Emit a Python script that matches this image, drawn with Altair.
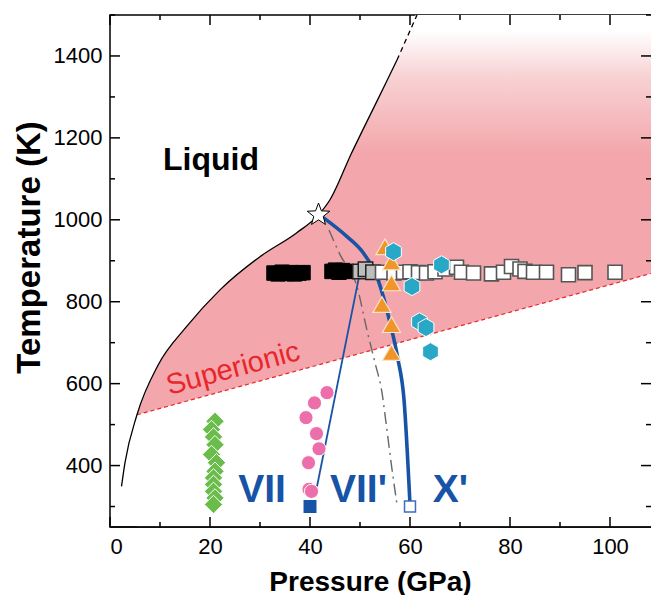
import altair as alt
import pandas as pd

FONT = "Liberation Sans"
W, H = 541, 512

# ---------------- data ----------------
melt_P = [2.3, 3.0, 5.4, 9.6, 15.3, 22.0, 30.0, 37.3, 41.7, 44.0, 48.2, 53.0, 57.4]
melt_T = [349, 407, 524, 645, 739, 829, 910, 968, 1012, 1049, 1160, 1280, 1390]
melt_ext_P = [57.4, 61.4]
melt_ext_T = [1390, 1500]

# superionic region (upper boundary: melting curve then plot top)
sup_P = [5.4, 9.6, 15.3, 22.0, 30.0, 37.3, 41.7, 44.0, 48.2, 53.0, 57.4, 61.4, 108.2]
sup_T = [524, 645, 739, 829, 910, 968, 1012, 1049, 1160, 1280, 1390, 1500, 1500]

# red dashed lower limit of the superionic phase
red_P = [5.4, 108.2]
red_T = [524, 869]

# VII' - X' boundary (thick blue)
bx_P = [42.6, 47.4, 50.6, 53.6, 56.0, 57.6, 58.8, 60.0]
bx_T = [1006, 959, 920, 854, 749, 659, 561, 305]

# VII - VII' boundary (thin blue)
bt_P = [41.4, 50.2]
bt_T = [349, 885]

# gray dash-dot line
gd_P = [43.8, 46.0, 49.4, 51.4, 53.0, 54.4, 55.2, 56.3, 57.4]
gd_T = [975, 915, 837, 730, 651, 578, 505, 400, 305]

black_P = [32.8, 33.6, 34.4, 35.3, 36.1, 36.9, 37.8, 38.6,
           44.4, 45.1, 45.8, 46.5, 47.2]
black_T = [870, 868, 872, 869, 871, 868, 870, 871,
           874, 877, 872, 876, 874]

gray_P = [50.0, 51.1, 52.6]
gray_T = [874, 879, 872]

open_P = [54.5, 56.8, 58.7, 60.0, 61.7, 63.3, 65.0, 67.0, 69.3, 70.3, 72.7, 76.3,
          78.7, 80.3, 82.0, 83.0, 84.7, 87.3, 91.7, 95.0, 101.0]
open_T = [872, 870, 872, 873, 871, 870, 873, 880, 884, 872, 870, 868,
          872, 886, 880, 874, 872, 872, 866, 871, 872]

green_P = [21.0, 20.3, 20.7, 21.0, 20.3, 21.3, 21.0, 20.7, 20.7, 20.7, 21.0, 20.7]
green_T = [508, 488, 470, 451, 427, 407, 386, 370, 354, 337, 321, 305]

pink_P = [43.4, 40.9, 39.2, 41.3, 41.8, 39.7, 39.8, 40.3]
pink_T = [578, 553, 517, 478, 441, 407, 342, 337]

tri_P = [55.0, 56.3, 56.3, 54.4, 56.3, 56.3]
tri_T = [934, 897, 846, 793, 744, 676]

hex_P = [56.7, 60.4, 61.9, 63.2, 64.1, 66.3]
hex_T = [922, 837, 751, 737, 678, 890]

star_P = [41.7]
star_T = [1012]

bsq_fill_P, bsq_fill_T = [40.0], [300]
bsq_open_P, bsq_open_T = [60.0], [300]

x_major = [0, 20, 40, 60, 80, 100]
x_minor = [10, 30, 50, 70, 90]
y_major = [400, 600, 800, 1000, 1200, 1400]
y_minor = [300, 500, 700, 900, 1100, 1300, 1500]

# ---------------- helpers ----------------
X_MAX = 108.2
xs = alt.Scale(domain=[0, X_MAX], nice=False, zero=False)
ys = alt.Scale(domain=[250, 1500], nice=False, zero=False)
FILL_BASE = 252  # fills stop just above the bottom frame line


def df(P, T):
    return pd.DataFrame({"P": P, "T": T})


def X(axis=None):
    return alt.X("P:Q", scale=xs, axis=axis)


def Y(axis=None):
    return alt.Y("T:Q", scale=ys, axis=axis)


PINK = "#f3a7ac"
BLUE = "#1753a6"

main_x_axis = alt.Axis(orient="bottom", values=x_major, ticks=False, grid=False, domain=False,
                       labelFontSize=22, labelFont=FONT, labelColor="black", labelPadding=9,
                       title="Pressure (GPa)", titleFont=FONT, titleFontSize=28,
                       titleFontWeight="bold", titlePadding=11, titleColor="black",
                       titleX=260, titleAlign="center")
main_y_axis = alt.Axis(orient="left", values=y_major, ticks=False, grid=False, domain=False,
                       format="d",
                       labelFontSize=22, labelFont=FONT, labelColor="black", labelPadding=8,
                       title="Temperature (K)", titleFont=FONT, titleFontSize=33,
                       titleFontWeight="bold", titleColor="black",
                       titleX=-64, titleY=232, titleAngle=270, titleAlign="center",
                       titleBaseline="bottom")

grad = alt.Gradient(gradient="linear", x1=0, x2=0, y1=0, y2=1,
                    stops=[alt.GradientStop(color="#ffffff", offset=0),
                           alt.GradientStop(color="#ffffff", offset=0.03),
                           alt.GradientStop(color="#f8d2d4", offset=0.12),
                           alt.GradientStop(color=PINK, offset=0.27),
                           alt.GradientStop(color=PINK, offset=1)])

sup_df = df(sup_P, sup_T)
sup_df["T0"] = FILL_BASE
red_df = df(red_P, red_T)
red_df["T0"] = FILL_BASE

area_pink = alt.Chart(sup_df).mark_area(fill=grad, interpolate="monotone", clip=True).encode(
    x=X(main_x_axis), y=Y(main_y_axis), y2="T0:Q")

area_white = alt.Chart(red_df).mark_area(fill="white", clip=True).encode(
    x=X(), y=Y(), y2="T0:Q")

red_line = alt.Chart(df(red_P, red_T)).mark_line(
    color="#e8262b", strokeWidth=1.2, strokeDash=[4, 3]).encode(x=X(), y=Y())

melt = alt.Chart(df(melt_P, melt_T)).mark_line(
    color="black", strokeWidth=1.3, interpolate="monotone").encode(x=X(), y=Y())
melt_ext = alt.Chart(df(melt_ext_P, melt_ext_T)).mark_line(
    color="black", strokeWidth=1.3, strokeDash=[5, 4]).encode(x=X(), y=Y())

gray_dd = alt.Chart(df(gd_P, gd_T)).mark_line(
    color="#666666", strokeWidth=1.4, strokeDash=[12, 5, 2, 5], interpolate="monotone").encode(x=X(), y=Y())

blue_thin = alt.Chart(df(bt_P, bt_T)).mark_line(color=BLUE, strokeWidth=1.8).encode(x=X(), y=Y())
blue_thick = alt.Chart(df(bx_P, bx_T)).mark_line(
    color=BLUE, strokeWidth=3.6, interpolate="monotone").encode(x=X(), y=Y())

sq_black = alt.Chart(df(black_P, black_T)).mark_point(
    shape="square", filled=True, fill="black", stroke="black", strokeWidth=1, size=210, opacity=1
).encode(x=X(), y=Y())
sq_gray = alt.Chart(df(gray_P, gray_T)).mark_point(
    shape="square", filled=True, fill="#bdbdbd", stroke="#222222", strokeWidth=1.5, size=210, opacity=1
).encode(x=X(), y=Y())
sq_open = alt.Chart(df(open_P, open_T)).mark_point(
    shape="square", filled=True, fill="white", stroke="#555555", strokeWidth=1.6, size=196, opacity=1
).encode(x=X(), y=Y())

green = alt.Chart(df(green_P, green_T)).mark_point(
    shape="diamond", filled=True, fill="#6abd4b", stroke="white", strokeWidth=1, size=340, opacity=1
).encode(x=X(), y=Y())
pink = alt.Chart(df(pink_P, pink_T)).mark_point(
    shape="circle", filled=True, fill="#ec6eab", stroke="white", strokeWidth=1, size=200, opacity=1
).encode(x=X(), y=Y())
tri = alt.Chart(df(tri_P, tri_T)).mark_point(
    shape="triangle-up", filled=True, fill="#f0952a", stroke="#fbe3c8", strokeWidth=1.2, size=330, opacity=1
).encode(x=X(), y=Y())
HEX = "M0,-1L0.866,-0.5L0.866,0.5L0,1L-0.866,0.5L-0.866,-0.5Z"
hexa = alt.Chart(df(hex_P, hex_T)).mark_point(
    shape=HEX, filled=True, fill="#28a8c6", stroke="white", strokeWidth=1, size=330, opacity=1
).encode(x=X(), y=Y())

bsq_fill = alt.Chart(df(bsq_fill_P, bsq_fill_T)).mark_point(
    shape="square", filled=True, fill=BLUE, stroke=BLUE, size=120, opacity=1).encode(x=X(), y=Y())
bsq_open = alt.Chart(df(bsq_open_P, bsq_open_T)).mark_point(
    shape="square", filled=True, fill="white", stroke="#3a6fbf", strokeWidth=1.5, size=120, opacity=1
).encode(x=X(), y=Y())

STAR = ("M0,-1L0.247,-0.340L0.951,-0.309L0.400,0.130L0.588,0.809L0,0.420"
        "L-0.588,0.809L-0.400,0.130L-0.951,-0.309L-0.247,-0.340Z")
star = alt.Chart(df(star_P, star_T)).mark_point(
    shape=STAR, filled=True, fill="white", stroke="black", strokeWidth=1, size=560, opacity=1
).encode(x=X(), y=Y())

lbl_liquid = alt.Chart(pd.DataFrame({"P": [10.6], "T": [1122], "t": ["Liquid"]})).mark_text(
    align="left", baseline="alphabetic", font=FONT, fontSize=32, fontWeight="bold", color="black"
).encode(x=X(), y=Y(), text="t:N")

lbl_phase = alt.Chart(pd.DataFrame({"P": [30.4, 49.7, 68.1], "T": [310, 310, 310],
                                    "t": ["VII", "VII'", "X'"]})).mark_text(
    align="center", baseline="alphabetic", font=FONT, fontSize=39, fontWeight="bold", color=BLUE
).encode(x=X(), y=Y(), text="t:N")

lbl_sup = alt.Chart(pd.DataFrame({"P": [24.6], "T": [637], "t": ["Superionic"]})).mark_text(
    align="center", baseline="middle", font=FONT, fontSize=29, angle=345, color="#e8262b"
).encode(x=X(), y=Y(), text="t:N")

# inward ticks on all four sides (tick values through the scales)
MAJ, MIN = 10, 5


def xticks(vals, length):
    d = pd.DataFrame({"P": vals})
    b = alt.Chart(d).mark_rule(color="black", strokeWidth=1.5).encode(
        x=X(), y=alt.value(H), y2=alt.value(H - length))
    t = alt.Chart(d).mark_rule(color="black", strokeWidth=1.5).encode(
        x=X(), y=alt.value(0), y2=alt.value(length))
    return [b, t]


def yticks(vals, length):
    d = pd.DataFrame({"T": vals})
    l = alt.Chart(d).mark_rule(color="black", strokeWidth=1.5).encode(
        y=Y(), x=alt.value(0), x2=alt.value(length))
    r = alt.Chart(d).mark_rule(color="black", strokeWidth=1.5).encode(
        y=Y(), x=alt.value(W), x2=alt.value(W - length))
    return [l, r]


ticks = xticks(x_major, MAJ) + xticks(x_minor, MIN) + yticks(y_major, MAJ) + yticks(y_minor, MIN)

# bottom frame line across the full pressure range, drawn above the fills
frame_bottom = alt.Chart(pd.DataFrame({"P": [0.0], "P2": [X_MAX], "T": [250]})).mark_rule(
    color="black", strokeWidth=1.5).encode(x=X(), x2="P2:Q", y=Y())

chart = alt.layer(
    area_pink, area_white, red_line, melt, melt_ext, gray_dd, blue_thin, blue_thick,
    sq_black, sq_gray, sq_open, green, pink, tri, hexa, bsq_fill, bsq_open, star,
    lbl_liquid, lbl_phase, lbl_sup, *ticks, frame_bottom
).resolve_axis(x="independent", y="independent").properties(
    width=W, height=H,
    autosize=alt.AutoSizeParams(type="none"),
    padding={"left": 102, "top": 7, "right": 0, "bottom": 68},
).configure_view(stroke="black", strokeWidth=1.5)

chart.save("out.html", embed_options={"renderer": "svg", "actions": False})
